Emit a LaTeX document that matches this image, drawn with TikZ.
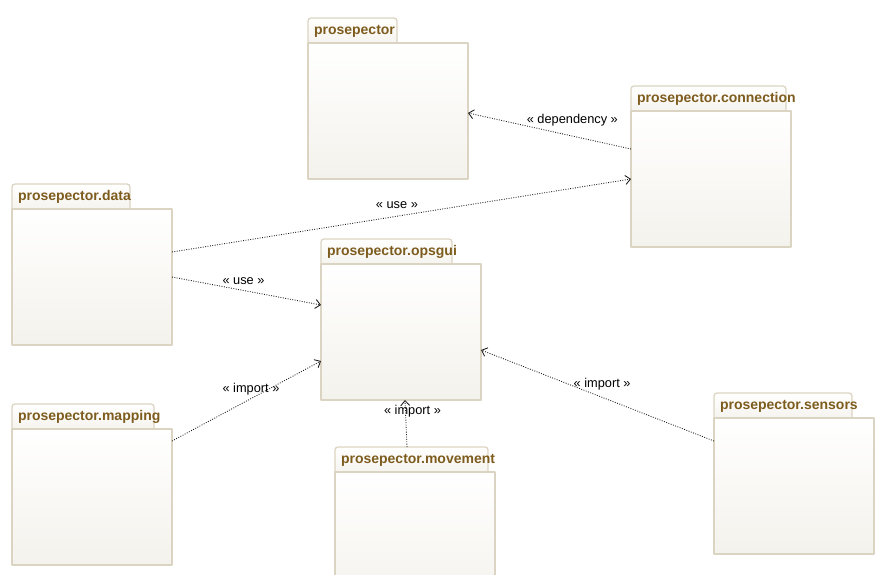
\documentclass[tikz,border=0pt]{standalone}
\usepackage{fontspec}
\setmainfont{Liberation Sans}
\usepackage{tikz}
\usetikzlibrary{arrows.meta, positioning}

\definecolor{PkgLine}{RGB}{219,212,194}
\definecolor{PkgFill}{RGB}{244,242,236}
\definecolor{PkgText}{RGB}{125,92,30}

\begin{document}
\begin{tikzpicture}[
    x=1pt, y=-1pt,
    >={Straight Barb[length=5pt, width=9pt]},
    line join=round,
    pkg/.style={rectangle, draw=PkgLine, line width=1.3pt, top color=white, bottom color=PkgFill, minimum width=160pt, minimum height=136pt, inner sep=0pt, outer sep=0pt},
    pkgtab/.style={rectangle, draw=PkgLine, line width=1.3pt, rounded corners=3pt, top color=white, bottom color=PkgFill, minimum height=29pt, inner xsep=6pt, inner ysep=0pt, outer sep=0pt, text width=#1, text height=9pt, text depth=5pt, align=left, anchor=north west, font=\fontsize{14}{16}\selectfont\bfseries, text=PkgText},
    dep/.style={draw=black!90, line width=0.85pt, dash pattern=on 0.9pt off 1.5pt, ->},
    deplabel/.style={font=\fontsize{12.8}{14}\selectfont, inner sep=1pt}
]

\clip (0,0) rectangle (890,574);

% packages: tab first, body below it
\node[pkgtab=77pt] (prostab) at (308,18) {\rlap{prosepector}};
\node[pkg, below right=-4pt and 0pt of prostab.south west] (pros) {};

\node[pkgtab=143pt] (conntab) at (631,86) {\rlap{prosepector.connection}};
\node[pkg, below right=-4pt and 0pt of conntab.south west] (conn) {};

\node[pkgtab=106pt] (datatab) at (12,184) {\rlap{prosepector.data}};
\node[pkg, below right=-4pt and 0pt of datatab.south west] (data) {};

\node[pkgtab=119pt] (opstab) at (321,239) {\rlap{prosepector.opsgui}};
\node[pkg, below right=-4pt and 0pt of opstab.south west] (ops) {};

\node[pkgtab=130pt] (maptab) at (12,404) {\rlap{prosepector.mapping}};
\node[pkg, below right=-4pt and 0pt of maptab.south west] (map) {};

\node[pkgtab=141pt] (movtab) at (335,447) {\rlap{prosepector.movement}};
\node[pkg, below right=-4pt and 0pt of movtab.south west] (mov) {};

\node[pkgtab=126pt] (senstab) at (714,393) {\rlap{prosepector.sensors}};
\node[pkg, below right=-4pt and 0pt of senstab.south west] (sens) {};

% dependencies
\draw[dep] ([yshift=30pt]conn.west) -- node[deplabel, pos=0.36, above=8pt] {« dependency »} ([yshift=-2pt]pros.east);
\draw[dep] ([yshift=25pt]data.east) -- node[deplabel, pos=0.49, above=6pt] {« use »} (conn.west);
\draw[dep] (data.east) -- node[deplabel, pos=0.48, above=4pt] {« use »} ([yshift=27pt]ops.west);
\draw[dep] ([yshift=56pt]map.east) -- node[deplabel, pos=0.53, above=2pt] {« import »} ([yshift=-29pt]ops.west);
\draw[dep] ([xshift=-4.5pt]movtab.north) -- node[deplabel, pos=0.77, xshift=7pt] {« import »} ([xshift=4pt]ops.south);
\draw[dep] ([yshift=45pt]sens.west) -- node[deplabel, pos=0.48, above=6pt] {« import »} ([yshift=-18pt]ops.east);

\end{tikzpicture}
\end{document}
